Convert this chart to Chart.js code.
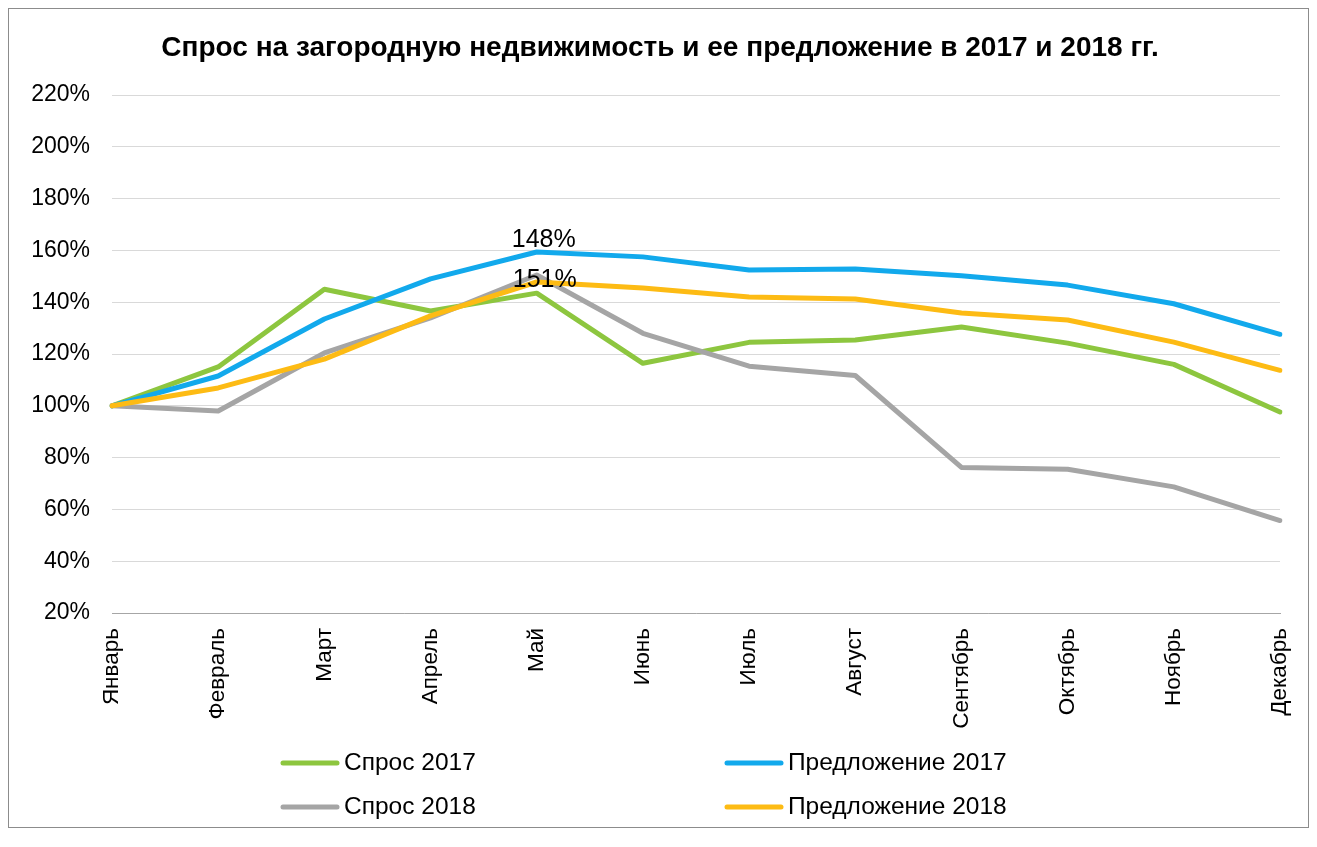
<!DOCTYPE html>
<html>
<head>
<meta charset="utf-8">
<script src="https://cdn.jsdelivr.net/npm/chart.js@4"></script>
<style>
  html, body { margin: 0; padding: 0; background: #fff; }
  #wrap { width: 1317px; height: 847px; }
</style>
</head>
<body>
<div id="wrap"><canvas id="myChart" width="1317" height="847"></canvas></div>
<script>
// месяцы
let months = ["Январь", "Февраль", "Март", "Апрель", "Май", "Июнь", "Июль", "Август", "Сентябрь", "Октябрь", "Ноябрь", "Декабрь"];

// значения, % к январю
let demand2017 = [100, 115, 145, 136.6, 143.5, 116.4, 124.5, 125.4, 130.4, 124.2, 116, 97.6];
let supply2017 = [100, 111.5, 133.5, 149, 159.4, 157.5, 152.4, 152.8, 150.2, 146.6, 139.4, 127.6];
let demand2018 = [100, 98, 120.4, 133.9, 150.5, 128, 115.3, 111.7, 76.2, 75.5, 68.7, 55.7];
let supply2018 = [100, 106.9, 118, 134.7, 147.8, 145.5, 142, 141.2, 135.8, 133.1, 124.6, 113.7];

let seriesNames = ["Спрос 2017", "Предложение 2017", "Спрос 2018", "Предложение 2018"];
let seriesColors = ["#8DC63F", "#12A9EC", "#A5A5A5", "#FDBB14"];

let chartTitle = "Спрос на загородную недвижимость и ее предложение в 2017 и 2018 гг.";

// подписи данных (только май)
let pointLabels = ["148%", "151%"];
let pointLabelSeries = [1, 2];
let pointLabelIndex = [4, 4];

let yTickMin = 20;
let yTickMax = 220;
let yTickStep = 20;

const FONT = "'Liberation Sans', Arial, sans-serif";

// рамка и заголовок
const framePlugin = {
    id: 'frame',
    beforeDraw: (chart) => {
        const c = chart.ctx;
        c.save();
        c.fillStyle = '#fff';
        c.fillRect(0, 0, chart.width, chart.height);
        c.strokeStyle = '#8c8c8c';
        c.lineWidth = 1;
        c.strokeRect(8.5, 8.5, 1300, 819);
        c.font = "bold 28px " + FONT;
        c.fillStyle = '#000';
        c.textAlign = 'center';
        c.textBaseline = 'middle';
        c.fillText(chartTitle, 660, 48);
        c.restore();
    }
};

// подписи 148% и 151%
const labelPlugin = {
    id: 'pointLabels',
    afterDatasetsDraw: (chart) => {
        const c = chart.ctx;
        c.save();
        c.font = "25px " + FONT;
        c.fillStyle = '#000';
        c.textAlign = 'center';
        for (let i = 0; i < pointLabels.length; i++) {
            const meta = chart.getDatasetMeta(pointLabelSeries[i]);
            const pt = meta.data[pointLabelIndex[i]];
            if (i === 0) {
                c.textBaseline = 'bottom';
                c.fillText(pointLabels[i], pt.x + 7, pt.y + 1);
            } else {
                c.textBaseline = 'middle';
                c.fillText(pointLabels[i], pt.x + 8, pt.y + 5);
            }
        }
        c.restore();
    }
};

// легенда в две колонки
const legendPlugin = {
    id: 'twoColLegend',
    afterDraw: (chart) => {
        const c = chart.ctx;
        const colX = [283, 727];
        const rowY = [763, 807];
        c.save();
        c.font = "24.5px " + FONT;
        c.fillStyle = '#000';
        c.textAlign = 'left';
        c.textBaseline = 'middle';
        chart.data.datasets.forEach((ds, i) => {
            const x = colX[i % 2];
            const y = rowY[Math.floor(i / 2)];
            c.strokeStyle = ds.borderColor;
            c.lineWidth = 5;
            c.lineCap = 'round';
            c.beginPath();
            c.moveTo(x, y);
            c.lineTo(x + 54, y);
            c.stroke();
            c.fillText(ds.label, x + 61, y);
        });
        c.restore();
    }
};

let seriesData = [demand2017, supply2017, demand2018, supply2018];
let drawOrder = [3, 2, 1, 0];

let data = {
    labels: months,
    datasets: seriesNames.map((name, i) => ({
        label: name,
        data: seriesData[i],
        borderColor: seriesColors[i],
        backgroundColor: seriesColors[i],
        borderWidth: 5,
        pointRadius: 0,
        tension: 0,
        borderJoinStyle: 'round',
        borderCapStyle: 'round',
        fill: false,
        order: drawOrder[i],
    }))
};

let options = {
    responsive: false,
    animation: false,
    layout: { padding: { left: 0, right: 37, top: 95, bottom: 0 } },
    plugins: {
        legend: { display: false },
        tooltip: { enabled: false },
        title: { display: false },
    },
    scales: {
        x: {
            grid: { display: false, drawTicks: false },
            border: { display: true, color: '#a6a6a6', width: 1 },
            ticks: {
                color: '#000',
                font: { family: FONT, size: 22.5 },
                minRotation: 90,
                maxRotation: 90,
                padding: 15,
                autoSkip: false,
            },
            afterFit: (scale) => {
                scale.height = 234;
                scale.paddingLeft = 0;
                scale.paddingRight = 0;
            },
        },
        y: {
            min: yTickMin,
            max: yTickMax,
            grid: { color: '#d9d9d9', lineWidth: 1, drawTicks: false },
            border: { display: false },
            ticks: {
                stepSize: yTickStep,
                color: '#000',
                font: { family: FONT, size: 23 },
                padding: 22,
                callback: (v) => v + '%',
            },
            afterFit: (scale) => {
                scale.width = 112;
                scale.paddingTop = 0;
                scale.paddingBottom = 0;
            },
        }
    }
};

let config = {
    type: 'line',
    data: data,
    options: options,
    plugins: [framePlugin, labelPlugin, legendPlugin],
};

const ctx = document.getElementById('myChart').getContext('2d');
let graphic = new Chart(ctx, config);
</script>
</body>
</html>
